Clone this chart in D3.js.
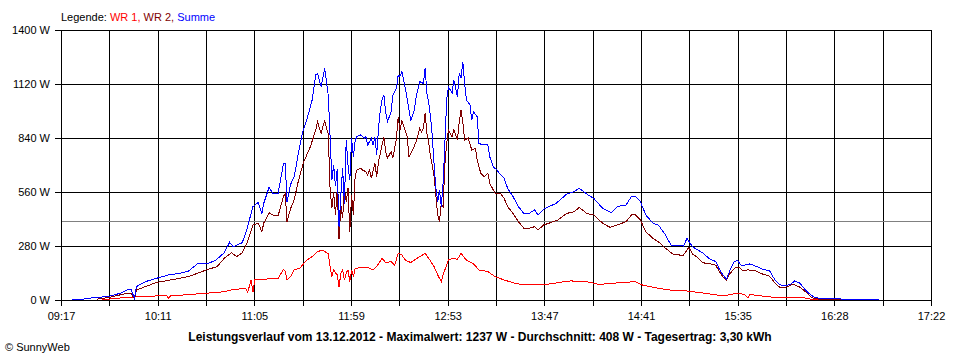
<!DOCTYPE html>
<html>
<head>
<meta charset="utf-8">
<script src="https://cdn.jsdelivr.net/npm/d3@7"></script>
<style>
  body { margin: 0; background: #fff; }
  svg { display: block; font-family: "Liberation Sans", Arial, sans-serif; }
  .axis text { font-size: 11px; fill: #000; }
  .axis path, .axis line { stroke: #000; shape-rendering: crispEdges; }
  .grid line { stroke: #000; shape-rendering: crispEdges; }
  .grid path { display: none; }
  .series { fill: none; stroke-width: 1; shape-rendering: crispEdges; }
</style>
</head>
<body>
<div class="chart"></div>
<script>
var width = 960;
var height = 360;

// Summe (blue)
var sumTimes = ['09:23','09:28','09:37','09:43','09:50','09:54','09:56','09:58','09:59','10:04','10:10','10:17','10:23','10:28','10:33','10:38','10:43','10:48','10:51','10:53','10:58','11:00','11:03','11:04','11:07','11:09','11:10','11:13','11:15','11:18','11:21','11:22','11:23','11:25','11:27','11:30','11:32','11:34','11:37','11:39','11:40','11:42','11:44','11:45','11:46','11:47','11:48','11:49','11:50','11:51','11:52','11:53','11:54','11:55','11:56','11:57','11:58','11:59','12:00','12:01','12:02','12:04','12:06','12:07','12:08','12:10','12:11','12:12','12:13','12:14','12:15','12:16','12:17','12:18','12:19','12:21','12:22','12:24','12:25','12:26','12:27','12:29','12:31','12:32','12:34','12:35','12:37','12:39','12:40','12:41','12:42','12:43','12:44','12:45','12:46','12:47','12:48','12:49','12:50','12:51','12:52','12:53','12:55','12:56','12:58','12:59','13:00','13:01','13:02','13:03','13:05','13:06','13:07','13:09','13:10','13:12','13:15','13:16','13:18','13:20','13:22','13:24','13:26','13:29','13:32','13:35','13:38','13:41','13:43','13:46','13:49','13:53','13:59','14:03','14:06','14:10','14:14','14:19','14:24','14:27','14:32','14:35','14:37','14:40','14:43','14:47','14:50','14:54','14:57','15:01','15:04','15:06','15:09','15:12','15:15','15:19','15:22','15:24','15:26','15:28','15:30','15:32','15:34','15:36','15:38','15:41','15:45','15:48','15:52','15:55','15:58','16:01','16:04','16:06','16:09','16:12','16:15','16:17','16:20','16:31','16:32','16:53'];
var sumWatts = [2,3,14,17,35,52,55,9,69,95,112,130,138,150,187,187,204,245,299,276,297,346,449,484,506,446,501,584,553,553,705,709,510,600,639,795,881,933,1037,1167,1175,1106,1201,1132,1060,850,620,700,590,680,380,544,683,500,830,700,620,839,740,830,847,856,839,847,804,839,804,847,752,890,985,1040,1063,976,924,976,1063,1097,1167,1160,1184,1097,985,933,985,1054,1132,1123,1201,1072,1020,950,847,700,580,510,570,484,605,813,1037,1106,1072,1141,1054,1175,1150,1236,1123,1037,1011,933,976,950,813,804,804,743,691,674,650,631,579,536,484,449,449,467,441,470,484,501,550,562,579,550,527,475,453,484,493,536,539,510,441,398,389,337,285,285,280,320,276,259,242,210,200,160,130,107,156,195,207,181,181,187,173,159,152,104,78,73,83,99,87,52,26,14,9,9,4,4];

// WR 2 (dark red)
var wr2Times = ['09:37','09:43','09:54','09:56','09:58','09:59','10:10','10:18','10:23','10:29','10:38','10:44','10:48','10:52','10:55','10:58','11:01','11:04','11:07','11:09','11:10','11:13','11:15','11:18','11:21','11:22','11:23','11:25','11:27','11:29','11:32','11:36','11:39','11:40','11:42','11:44','11:45','11:46','11:47','11:48','11:49','11:50','11:51','11:52','11:53','11:54','11:55','11:56','11:57','11:58','11:59','12:00','12:01','12:02','12:04','12:05','12:07','12:08','12:09','12:10','12:12','12:13','12:14','12:16','12:17','12:18','12:19','12:21','12:22','12:24','12:25','12:26','12:27','12:29','12:30','12:31','12:33','12:35','12:37','12:38','12:39','12:40','12:41','12:42','12:43','12:44','12:45','12:46','12:47','12:48','12:49','12:50','12:51','12:52','12:53','12:55','12:56','12:58','12:59','13:00','13:01','13:02','13:04','13:06','13:08','13:09','13:11','13:13','13:15','13:16','13:19','13:22','13:24','13:26','13:29','13:32','13:35','13:38','13:41','13:43','13:46','13:49','13:54','13:59','14:03','14:06','14:10','14:14','14:19','14:23','14:27','14:32','14:35','14:37','14:40','14:43','14:47','14:50','14:54','14:58','15:02','15:04','15:07','15:09','15:12','15:14','15:17','15:19','15:22','15:24','15:26','15:28','15:30','15:33','15:35','15:37','15:40','15:44','15:48','15:52','15:55','15:58','16:01','16:04','16:06','16:09','16:12','16:15','16:17','16:20','16:53'];
var wr2Watts = [4,12,35,35,5,52,90,104,112,124,156,173,216,245,225,245,302,389,398,354,398,453,441,436,536,553,406,475,519,605,709,795,881,924,864,933,890,860,579,475,560,441,579,315,493,423,579,510,579,354,544,441,648,674,683,674,665,648,674,631,709,639,717,804,847,769,735,769,735,839,950,881,933,873,847,743,778,821,890,873,890,968,864,813,743,700,639,540,440,406,501,484,700,813,881,847,881,830,924,985,924,830,839,778,787,726,657,639,657,605,553,553,527,484,449,406,372,372,380,363,389,398,415,449,458,480,449,441,398,377,389,406,441,444,415,354,320,302,268,239,233,233,273,239,220,199,187,187,181,147,121,104,138,170,170,152,156,152,135,124,87,64,66,78,78,66,43,17,7,4,2];

// WR 1 (red)
var wr1Times = ['09:40','09:43','09:46','09:54','10:10','10:16','10:17','10:18','10:38','10:48','10:52','11:00','11:01','11:02','11:03','11:04','11:05','11:10','11:13','11:18','11:21','11:22','11:23','11:25','11:27','11:30','11:34','11:37','11:40','11:43','11:45','11:46','11:47','11:48','11:49','11:50','11:51','11:52','11:53','11:54','11:55','11:56','11:57','11:58','11:59','12:00','12:01','12:04','12:08','12:11','12:13','12:16','12:18','12:21','12:23','12:25','12:27','12:29','12:32','12:34','12:37','12:40','12:42','12:45','12:47','12:49','12:50','12:51','12:53','12:55','12:58','13:00','13:03','13:07','13:10','13:15','13:19','13:24','13:30','13:35','13:46','13:54','14:01','14:10','14:17','14:25','14:32','14:37','14:41','14:47','14:56','15:05','15:16','15:26','15:34','15:38','15:40','15:41','15:45','15:54','16:10','16:15','16:20','16:53'];
var wr1Watts = [2,4,7,14,21,21,10,21,35,43,52,61,40,70,104,40,104,104,112,112,159,150,104,121,156,164,207,225,251,259,245,242,173,121,156,140,130,69,138,156,104,140,156,95,156,121,164,168,168,156,173,216,194,199,181,242,233,207,194,207,225,242,216,173,130,95,130,156,207,216,211,242,207,187,156,147,121,104,87,78,78,90,99,95,81,87,92,95,78,66,52,48,35,21,35,29,10,29,24,14,14,4,2,1];

var average = 408;
var yTicks = [0, 280, 560, 840, 1120, 1400];
var xLabels = ['09:17','10:11','11:05','11:59','12:53','13:47','14:41','15:35','16:28','17:22'];

var parseTime = d3.timeParse('%H:%M');

function series(times, watts) {
	return times.map(function(t, i) {
		return { t: parseTime(t), w: watts[i] };
	});
}

var sumData = series(sumTimes, sumWatts);
var wr2Data = series(wr2Times, wr2Watts);
var wr1Data = series(wr1Times, wr1Watts);

var svg = d3.select('.chart')
	.append('svg')
	.attr('width', width)
	.attr('height', height);

var t0 = parseTime(xLabels[0]);
var t1 = parseTime(xLabels[xLabels.length - 1]);

var x = d3.scaleTime()
	.domain([t0, t1])
	.range([61, 931]);

var y = d3.scaleLinear()
	.domain([0, 1400])
	.range([300, 30]);

// grid ticks every half label step
var xTicks = d3.range(19).map(function(i) {
	return new Date(+t0 + i * (t1 - t0) / 18);
});

// horizontal grid
svg.append('g')
	.attr('class', 'grid')
	.attr('transform', 'translate(61,0)')
	.call(d3.axisLeft(y).tickValues(yTicks).tickSize(-870).tickFormat(''));

// vertical grid
svg.append('g')
	.attr('class', 'grid')
	.attr('transform', 'translate(0,300)')
	.call(d3.axisBottom(x).tickValues(xTicks).tickSize(-270).tickFormat(''));

// average line
svg.append('line')
	.attr('x1', x(t0))
	.attr('x2', x(t1))
	.attr('y1', Math.round(y(average)) + 0.5)
	.attr('y2', Math.round(y(average)) + 0.5)
	.attr('stroke', '#808080');

// axes
svg.append('g')
	.attr('class', 'axis')
	.attr('transform', 'translate(61,0)')
	.call(d3.axisLeft(y).tickValues(yTicks).tickSize(6).tickSizeOuter(0).tickPadding(5)
		.tickFormat(function(d) { return d + ' W'; }));

svg.append('g')
	.attr('class', 'axis')
	.attr('transform', 'translate(0,300)')
	.call(d3.axisBottom(x).tickValues(xTicks).tickSize(6).tickSizeOuter(0).tickPadding(6)
		.tickFormat(function(d, i) { return i % 2 === 0 ? xLabels[i / 2] : ''; }));

var line = d3.line()
	.x(function(d) { return x(d.t); })
	.y(function(d) { return y(d.w); });

svg.append('path')
	.datum(wr1Data)
	.attr('class', 'series')
	.attr('d', line)
	.attr('stroke', '#ff0000');

svg.append('path')
	.datum(wr2Data)
	.attr('class', 'series')
	.attr('d', line)
	.attr('stroke', '#800000');

svg.append('path')
	.datum(sumData)
	.attr('class', 'series')
	.attr('d', line)
	.attr('stroke', '#0000ff');

// legend
var legend = svg.append('text')
	.attr('x', 61)
	.attr('y', 21)
	.style('font-size', '11px');
legend.append('tspan').attr('fill', '#000').text('Legende: ');
legend.append('tspan').attr('fill', '#ff0000').text('WR 1, ');
legend.append('tspan').attr('fill', '#800000').text('WR 2, ');
legend.append('tspan').attr('fill', '#0000ff').text('Summe');

// title
svg.append('text')
	.attr('x', 480)
	.attr('y', 341)
	.attr('text-anchor', 'middle')
	.style('font-size', '12px')
	.style('font-weight', 'bold')
	.text('Leistungsverlauf vom 13.12.2012 - Maximalwert: 1237 W - Durchschnitt: 408 W - Tagesertrag: 3,30 kWh');

svg.append('text')
	.attr('x', 5)
	.attr('y', 351)
	.style('font-size', '11px')
	.text('\u00a9 SunnyWeb');
</script>
</body>
</html>
